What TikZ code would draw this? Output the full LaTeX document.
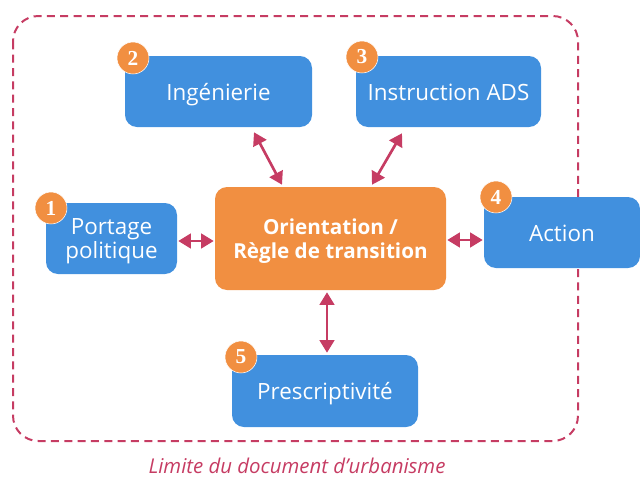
\documentclass[tikz,border=0pt]{standalone}
\usepackage{fontspec}
\setmainfont{Open Sans}
\newfontfamily\numfont{Liberation Serif}
\usetikzlibrary{arrows.meta,calc}
\definecolor{boxblue}{HTML}{4190DE}
\definecolor{boxorange}{HTML}{F18F41}
\definecolor{crimson}{HTML}{C63C63}
\begin{document}
\begin{tikzpicture}[x=0.75pt,y=-0.75pt,
  blk/.style={fill=boxblue, rounded corners=9pt, text=white, align=center,
    font=\fontsize{16.8}{18}\selectfont, inner sep=0pt},
  core/.style={fill=boxorange, rounded corners=9pt, text=white, align=center,
    font=\bfseries\fontsize{15.5}{18}\selectfont, inner sep=0pt},
  oneline/.style={text height=13.5pt, text depth=0.7pt},
  twoline/.style={text height=30pt, text depth=0.3pt},
  badge/.style={circle, fill=boxorange, draw=white, line width=0.4pt, text=white,
    minimum size=24pt, inner sep=0pt, font=\numfont\bfseries\fontsize{16}{16}\selectfont},
  conn/.style={draw=crimson, line width=2pt, {Triangle[length=9.5pt,width=11pt]}-{Triangle[length=9.5pt,width=11pt]}},
  frame/.style={draw=crimson, line width=1.5pt, dash pattern=on 6pt off 4pt, rounded corners=19pt}]
\useasboundingbox (0,0) rectangle (640,479);

% boundary of the planning document
\draw[frame] (13,16) rectangle (578,441);
\node[text=crimson, font=\itshape\fontsize{15.3}{17}\selectfont] (cap) at (297,466) {Limite du document d’urbanisme};

% boxes
\node[core, twoline, minimum width=231*0.75pt, minimum height=103*0.75pt] (ori) at (330.5,238.5) {Orientation /\\Règle de transition};
\node[blk, oneline, minimum width=187*0.75pt, minimum height=71*0.75pt] (ing) at (218.5,91.5) {Ingénierie};
\node[blk, oneline, minimum width=185*0.75pt, minimum height=71*0.75pt] (ins) at (448.5,91.5) {Instruction ADS};
\node[blk, twoline, minimum width=131*0.75pt, minimum height=71*0.75pt] (pol) at (111.5,238.5) {Portage\\politique};
\node[blk, oneline, minimum width=156*0.75pt, minimum height=71*0.75pt] (act) at (562,232.5) {Action};
\node[blk, oneline, minimum width=186*0.75pt, minimum height=72*0.75pt] (pre) at (325,391) {Prescriptivité};

% numbered badges
\node[badge] (b1) at (51,208) {1};
\node[badge] (b2) at (133,58) {2};
\node[badge] (b3) at (362,57) {3};
\node[badge] (b4) at (496,197) {4};
\node[badge] (b5) at (241,357) {5};

% links to the central box
\draw[conn] ($(ing.south)+(35.5,5)$) -- ($(ori.north)+(-48.5,-2)$);
\draw[conn] ($(ins.south)+(-46.5,6)$) -- ($(ori.north)+(41.5,-2)$);
\draw[conn] ($(pol.east)+(1,2.5)$) -- ($(ori.west)+(-1,2.5)$);
\draw[conn] ($(ori.east)+(1,1.5)$) -- ($(act.west)+(-1,7.5)$);
\draw[conn] ($(ori.south)+(-3.5,2)$) -- ($(pre.north)+(2,-2)$);
\end{tikzpicture}
\end{document}
